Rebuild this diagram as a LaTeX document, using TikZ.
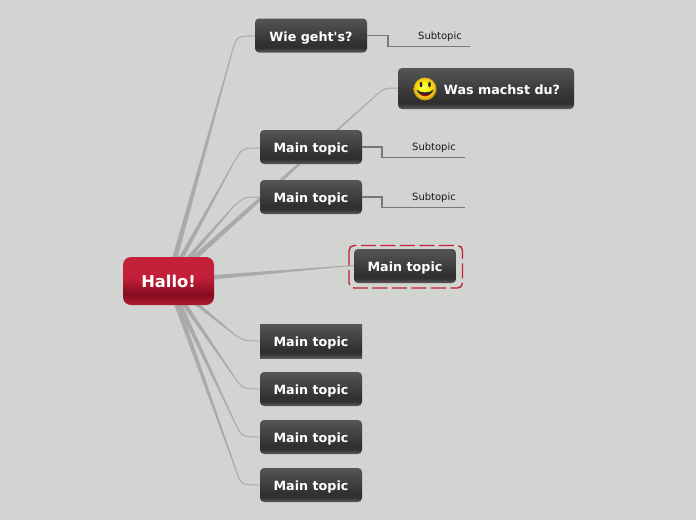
\documentclass[tikz,border=0pt]{standalone}
\usepackage{fontspec}
\setmainfont{DejaVu Sans}
\newfontfamily\plainquote{DejaVu Sans}
\usetikzlibrary{calc}
\definecolor{bg}{HTML}{D2D4D1}
\definecolor{wire}{HTML}{A9ABA8}
\definecolor{subwire}{HTML}{777875}
\definecolor{accent}{HTML}{C4203A}
\definecolor{dtop}{HTML}{555555}
\definecolor{dlow}{HTML}{303030}
\definecolor{dedge}{HTML}{5A5A5A}
\definecolor{hubdark}{HTML}{850D20}
\definecolor{hubedge}{HTML}{B01A30}
\definecolor{gold}{HTML}{F2C81E}
\definecolor{goldedge}{HTML}{C89A10}
\pgfdeclareverticalshading{darktopic}{100bp}{color(0bp)=(dedge);color(25bp)=(dedge);color(32bp)=(dlow);color(37bp)=(dlow);color(75bp)=(dtop);color(100bp)=(dtop)}
\pgfdeclareverticalshading{redhub}{100bp}{color(0bp)=(hubedge);color(25bp)=(hubedge);color(36bp)=(hubdark);color(54bp)=(accent);color(75bp)=(accent);color(100bp)=(accent)}
\pgfdeclareradialshading{smile}{\pgfpoint{-3bp}{5bp}}{color(0bp)=(yellow!55!white);color(10bp)=(yellow!80!gold);color(20bp)=(gold);color(25bp)=(goldedge);color(50bp)=(goldedge)}
\tikzset{
 x=1pt,y=-1pt,
 topic/.style={shading=darktopic,rounded corners=4pt,inner sep=0pt,text=white,font=\fontsize{12.7}{14}\selectfont\bfseries,minimum height=34pt,minimum width=102pt,text height=11pt,text depth=0pt},
 hubnode/.style={shading=redhub,rounded corners=8pt,inner sep=0pt,text=white,font=\fontsize{16.3}{18}\selectfont\bfseries,minimum width=91pt,minimum height=48pt},
 subtext/.style={inner sep=0pt,text=black!90,font=\fontsize{10}{12}\selectfont,text height=8pt,text depth=0pt},
 curveline/.style={draw=wire,line width=1pt},
 subline/.style={draw=subwire,line width=1.1pt},
 dashbox/.style={draw=accent,line width=1.4pt,rounded corners=5pt,dash pattern=on 15pt off 4.5pt},
}
% tapered wire: hub -> (#1) as a wedge, then a thin rounded curve via (#2) to (#3)
\newcommand{\wedgewire}[3]{%
 \fill[wire] ($(hub)!2.8pt!90:(#1)$) -- ($(#1)!.5pt!-90:(hub)$) -- ($(#1)!.5pt!90:(hub)$) -- ($(hub)!2.8pt!-90:(#1)$) -- cycle;
 \draw[curveline] (#1) .. controls (#2) .. (#3);
}
\begin{document}
\begin{tikzpicture}
\useasboundingbox (0,0) rectangle (696,520);
\fill[bg] (0,0) rectangle (696,520);

% bends
\coordinate (c1) at (237,36);  \coordinate (k1) at (232,52);
\coordinate (c2) at (242,148); \coordinate (k2) at (233,164);
\coordinate (c3) at (244,197); \coordinate (k3) at (233,207);
\coordinate (c4) at (384,88);  \coordinate (k4) at (372,99);
\coordinate (c6) at (245,341); \coordinate (k6) at (235,335);
\coordinate (c7) at (243,389); \coordinate (k7) at (235,378);
\coordinate (c8) at (242,437); \coordinate (k8) at (235,423);
\coordinate (c9) at (241,485); \coordinate (k9) at (236,470);
\coordinate (k5) at (340,266.5);
\coordinate (hub) at (168.5,281);

% wires are drawn first, under the boxes
\path (255,36) coordinate (t1) (260,148) coordinate (t2) (260,197) coordinate (t3) (398,88) coordinate (t4)
      (260,341) coordinate (t6) (260,389) coordinate (t7) (260,437) coordinate (t8) (260,485) coordinate (t9)
      (354,265.5) coordinate (t5);
\wedgewire{k1}{c1}{t1}
\wedgewire{k2}{c2}{t2}
\wedgewire{k3}{c3}{t3}
\wedgewire{k4}{c4}{t4}
\wedgewire{k5}{k5}{t5}
\wedgewire{k6}{c6}{t6}
\wedgewire{k7}{c7}{t7}
\wedgewire{k8}{c8}{t8}
\wedgewire{k9}{c9}{t9}

% boxes
\node[hubnode] (hubbox) at (168.5,281) {Hallo!};
\node[topic,minimum width=112pt] (n1) at (311,35.5) {\plainquote Wie geht's?};
\node[topic] (n2) at (311,147) {Main topic};
\node[topic] (n3) at (311,197) {Main topic};
\node[topic,minimum width=176pt,minimum height=41pt] (n4) at (486,88.5) {\hspace*{32pt}Was machst du?};
\node[topic] (n5) at (405,266) {Main topic};
\node[topic,rounded corners=0pt] (n6) at (311,341) {Main topic};
\node[topic] (n7) at (311,389) {Main topic};
\node[topic] (n8) at (311,437) {Main topic};
\node[topic] (n9) at (311,485) {Main topic};

% selection frame
\draw[dashbox] (349,245.5) rectangle (462.5,288);

% smiley
\shade[shading=smile] (425,89) circle (11.5);
\fill[black!85] (421,84.5) ellipse (1.4 and 2.8);
\fill[black!85] (429.5,84.5) ellipse (1.4 and 2.8);
\fill[black!85] (416.5,89.5) .. controls (419,98) and (431,98) .. (433.5,89.5) .. controls (430,93.5) and (420,93.5) .. (416.5,89.5) -- cycle;
\fill[red!75!black] (420,94) .. controls (423,97.2) and (427,97.2) .. (430,94) .. controls (427,95) and (423,95) .. (420,94) -- cycle;

% subtopics
\node[subtext] (s1) at (440,35) {Subtopic};
\node[subtext] (s2) at (434,146.5) {Subtopic};
\node[subtext] (s3) at (434,196.5) {Subtopic};
\coordinate (e1) at (470,46.5); \coordinate (e2) at (465,157.5); \coordinate (e3) at (465,207.5);
\draw[subline] (n1.east) -- (388,35.5) -- (388,46.5) -- (e1);
\draw[subline] (n2.east) -- (382,147) -- (382,157.5) -- (e2);
\draw[subline] (n3.east) -- (382,197) -- (382,207.5) -- (e3);
\end{tikzpicture}
\end{document}
